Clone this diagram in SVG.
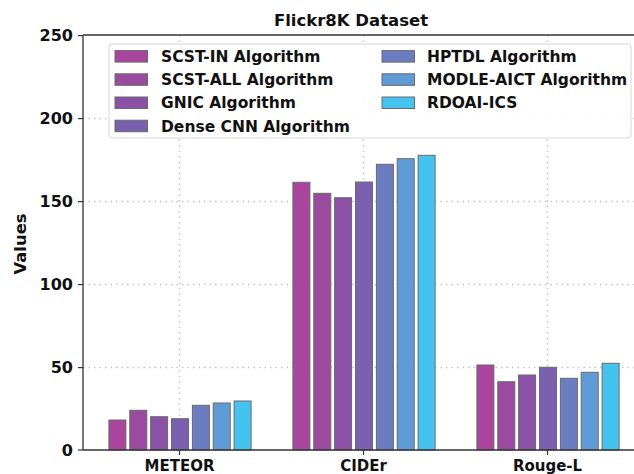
<svg xmlns="http://www.w3.org/2000/svg" width="634" height="474" viewBox="0 0 634 474">
<style>
text{font-family:"DejaVu Sans","Liberation Sans",sans-serif;font-weight:bold;fill:#111}
.grid{stroke:#c4c4c4;stroke-width:1.5;stroke-dasharray:1.5,4;fill:none}
.spine{stroke:#333;stroke-width:1.3;fill:none}
.tick{stroke:#333;stroke-width:1.2}
.ytl{font-size:16px;text-anchor:end}
.xtl{font-size:15px;text-anchor:middle}
.leg{font-size:15.5px}
.bar{stroke:#6a6a6a;stroke-width:1}
.c1{fill:#a9459c}.c2{fill:#9a4b9f}.c3{fill:#8a51a6}.c4{fill:#7a60ae}.c5{fill:#6b7cc0}.c6{fill:#5f9cd7}.c7{fill:#45c2ee}
</style>
<rect width="634" height="474" fill="#ffffff"/>
<g id="gridlines">
<line class="grid" x1="83" y1="118.6" x2="634" y2="118.6"/>
<line class="grid" x1="83" y1="201.6" x2="634" y2="201.6"/>
<line class="grid" x1="83" y1="284.6" x2="634" y2="284.6"/>
<line class="grid" x1="83" y1="367.6" x2="634" y2="367.6"/>
<line class="grid" x1="179.5" y1="35" x2="179.5" y2="450"/>
<line class="grid" x1="363.5" y1="35" x2="363.5" y2="450"/>
<line class="grid" x1="547.5" y1="35" x2="547.5" y2="450"/>
</g>
<g id="bars-METEOR">
<rect class="bar c1" x="108.9" y="420" width="17" height="30"/>
<rect class="bar c2" x="129.8" y="410.3" width="17" height="39.7"/>
<rect class="bar c3" x="150.6" y="416.7" width="17" height="33.3"/>
<rect class="bar c4" x="171.5" y="418.7" width="17" height="31.3"/>
<rect class="bar c5" x="192.4" y="405.3" width="17" height="44.7"/>
<rect class="bar c6" x="213.2" y="403" width="17" height="47"/>
<rect class="bar c7" x="234.1" y="401" width="17" height="49"/>
</g>
<g id="bars-CIDEr">
<rect class="bar c1" x="292.9" y="182.3" width="17" height="267.7"/>
<rect class="bar c2" x="313.8" y="193.3" width="17" height="256.7"/>
<rect class="bar c3" x="334.6" y="197.7" width="17" height="252.3"/>
<rect class="bar c4" x="355.5" y="182" width="17" height="268"/>
<rect class="bar c5" x="376.4" y="164.3" width="17" height="285.7"/>
<rect class="bar c6" x="397.2" y="158.7" width="17" height="291.3"/>
<rect class="bar c7" x="418.1" y="155.3" width="17" height="294.7"/>
</g>
<g id="bars-Rouge-L">
<rect class="bar c1" x="476.9" y="365" width="17" height="85"/>
<rect class="bar c2" x="497.8" y="381.7" width="17" height="68.3"/>
<rect class="bar c3" x="518.6" y="375" width="17" height="75"/>
<rect class="bar c4" x="539.5" y="367.3" width="17" height="82.7"/>
<rect class="bar c5" x="560.4" y="378.3" width="17" height="71.7"/>
<rect class="bar c6" x="581.2" y="372.3" width="17" height="77.7"/>
<rect class="bar c7" x="602.1" y="363.3" width="17" height="86.7"/>
</g>
<g id="axes">
<line class="spine" x1="83" y1="35" x2="83" y2="450"/>
<line class="spine" x1="83" y1="35" x2="634" y2="35"/>
<line class="spine" x1="83" y1="450" x2="634" y2="450"/>
<line class="tick" x1="78" y1="35.6" x2="83" y2="35.6"/>
<line class="tick" x1="78" y1="118.6" x2="83" y2="118.6"/>
<line class="tick" x1="78" y1="201.6" x2="83" y2="201.6"/>
<line class="tick" x1="78" y1="284.6" x2="83" y2="284.6"/>
<line class="tick" x1="78" y1="367.6" x2="83" y2="367.6"/>
<line class="tick" x1="78" y1="450" x2="83" y2="450"/>
<line class="tick" x1="179.5" y1="450" x2="179.5" y2="455"/>
<line class="tick" x1="363.5" y1="450" x2="363.5" y2="455"/>
<line class="tick" x1="547.5" y1="450" x2="547.5" y2="455"/>
<text class="ytl" x="73" y="41.4">250</text>
<text class="ytl" x="73" y="124.4">200</text>
<text class="ytl" x="73" y="207.4">150</text>
<text class="ytl" x="73" y="290.4">100</text>
<text class="ytl" x="73" y="373.4">50</text>
<text class="ytl" x="73" y="455.8">0</text>
<text class="xtl" x="179.5" y="470.5">METEOR</text>
<text class="xtl" x="363.5" y="470.5">CIDEr</text>
<text class="xtl" x="547.5" y="470.5">Rouge-L</text>
<text x="26" y="244" font-size="16.4" text-anchor="middle" transform="rotate(-90 26 244)">Values</text>
<text x="351" y="26" font-size="16.5" text-anchor="middle">Flickr8K Dataset</text>
</g>
<g id="legend">
<rect x="109" y="44" width="522" height="94" rx="3" fill="#ffffff" fill-opacity="0.92" stroke="#d6d6d6" stroke-width="1"/>
<rect class="bar c1" x="115" y="50.6" width="32.5" height="11.5"/>
<rect class="bar c2" x="115" y="73.8" width="32.5" height="11.5"/>
<rect class="bar c3" x="115" y="97" width="32.5" height="11.5"/>
<rect class="bar c4" x="115" y="120.2" width="32.5" height="11.5"/>
<rect class="bar c5" x="382" y="50.6" width="32.5" height="11.5"/>
<rect class="bar c6" x="382" y="73.8" width="32.5" height="11.5"/>
<rect class="bar c7" x="382" y="97" width="32.5" height="11.5"/>
<text class="leg" x="161" y="62">SCST-IN Algorithm</text>
<text class="leg" x="161" y="85.2">SCST-ALL Algorithm</text>
<text class="leg" x="161" y="108.4">GNIC Algorithm</text>
<text class="leg" x="161" y="131.6">Dense CNN Algorithm</text>
<text class="leg" x="427" y="62">HPTDL Algorithm</text>
<text class="leg" x="427" y="85.2">MODLE-AICT Algorithm</text>
<text class="leg" x="427" y="108.4">RDOAI-ICS</text>
</g>
</svg>
